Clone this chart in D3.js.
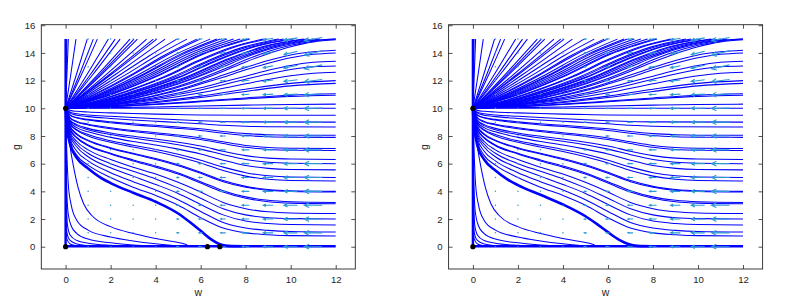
<!DOCTYPE html>
<html><head><meta charset="utf-8">
<script src="https://cdn.jsdelivr.net/npm/d3@7"></script>
<style>body{margin:0;background:#fff}svg{display:block}</style>
</head><body>
<svg id="c" width="788" height="303"></svg>
<script>
// ---------- data ----------
const xTicks = [0, 2, 4, 6, 8, 10, 12];
const yTicks = [0, 2, 4, 6, 8, 10, 12, 14, 16];
const xLabel = "w", yLabel = "g";

// streamlines fanning out of (0,10) to the top edge g=15
const fanTop = [
 [[0,10],[0.05,15]],[[0,10],[0.12,15]],
 [[0,10],[0.23,12.44],[0.46,15]],[[0,10],[0.48,12.44],[0.96,15]],[[0,10],[0.615,12.44],[1.23,15]],
 [[0,10],[0.705,12.44],[1.41,15]],[[0,10],[0.95,12.44],[1.9,15]],[[0,10],[1.1,12.44],[2.2,15]],
 [[0,10],[1.21,12.44],[2.42,15]],[[0,10],[1.43,12.44],[2.86,15]],[[0,10],[1.52,12.44],[3.04,15]],
 [[0,10],[1.595,12.44],[3.19,15]],[[0,10],[1.8,12.44],[3.6,15]],[[0,10],[1.95,12.44],[3.9,15]],
 [[0,10],[2.025,12.44],[4.05,15]],[[0,10],[2.21,12.44],[4.42,15]],
 [[0,10],[1.235,11.21],[2.47,12.48],[3.705,13.78],[4.94,15]],
 [[0,10],[1.35,11.19],[2.695,12.45],[4.04,13.8],[5.39,15]],
 [[0,10],[1.46,11.16],[2.915,12.43],[4.37,13.82],[5.83,15]],
 [[0,10],[1.5,11.15],[2.99,12.43],[4.485,13.82],[5.98,15]],
 [[0,10],[1.605,11.12],[3.21,12.41],[4.815,13.84],[6.42,15]],
 [[0,10],[1.68,11.1],[3.36,12.39],[5.04,13.86],[6.72,15]],
 [[0,10],[1.72,11.09],[3.435,12.39],[5.15,13.86],[6.87,15]],
 [[0,10],[1.79,11.07],[3.585,12.37],[5.38,13.88],[7.17,15]],
 [[0,10],[1.865,11.05],[3.73,12.36],[5.6,13.89],[7.46,15]],
 [[0,10],[1.94,11.03],[3.88,12.35],[5.82,13.9],[7.76,15]],
 [[0,10],[2.015,11.01],[4.03,12.33],[6.045,13.92],[8.06,15]],
 [[0,10],[2.045,11.0],[4.09,12.33],[6.135,13.92],[8.18,15]],
 [[0,10],[1.467,10.58],[2.933,11.37],[4.4,12.3],[5.867,13.43],[7.333,14.39],[8.8,15]],
 [[0,10],[1.492,10.57],[2.983,11.36],[4.475,12.29],[5.967,13.43],[7.458,14.4],[8.95,15]],
 [[0,10],[1.578,10.54],[3.157,11.32],[4.735,12.27],[6.313,13.44],[7.892,14.42],[9.47,15]],
 [[0,10],[1.615,10.53],[3.23,11.31],[4.845,12.26],[6.46,13.45],[8.075,14.43],[9.69,15]],
 [[0,10],[1.665,10.51],[3.33,11.29],[4.995,12.24],[6.66,13.46],[8.325,14.45],[9.99,15]],
 [[0,10],[1.688,10.51],[3.377,11.28],[5.065,12.24],[6.753,13.46],[8.442,14.46],[10.13,15]],
 [[0,10],[1.763,10.48],[3.527,11.25],[5.29,12.22],[7.053,13.47],[8.817,14.48],[10.58,15]],
 [[0,10],[1.788,10.47],[3.577,11.24],[5.365,12.21],[7.153,13.47],[8.942,14.49],[10.73,15]],
 [[0,10],[1.837,10.46],[3.673,11.22],[5.51,12.2],[7.347,13.48],[9.183,14.5],[11.02,15]],
 [[0,10],[1.883,10.44],[3.767,11.2],[5.65,12.18],[7.533,13.49],[9.417,14.51],[11.3,15]]
];

// streamlines from (0,10) to the right edge w=12, above g=10
const fanRight = [
 [[0,10],[1,10.17],[2,10.45],[3,10.82],[4,11.25],[5,11.75],[6,12.35],[7,13.0],[8,13.68],[9,14.25],[10,14.65],[11,14.9],[12,15.0]],
 [[0,10],[1,10.15],[2,10.4],[3,10.75],[4,11.15],[5,11.6],[6,12.15],[7,12.8],[8,13.5],[9,14.1],[10,14.55],[11,14.85],[12,15.0]],
 [[0,10],[1,10.13],[2,10.37],[3,10.7],[4,11.08],[5,11.52],[6,12.05],[7,12.68],[8,13.35],[9,13.95],[10,14.45],[11,14.8],[12,14.95]],
 [[0,10],[1,10.12],[2,10.32],[3,10.6],[4,10.95],[5,11.35],[6,11.85],[7,12.4],[8,12.95],[9,13.45],[10,13.85],[11,14.08],[12,14.2]],
 [[0,10],[1,10.12],[2,10.3],[3,10.55],[4,10.9],[5,11.28],[6,11.75],[7,12.25],[8,12.78],[9,13.25],[10,13.65],[11,13.9],[12,14.0]],
 [[0,10],[1,10.1],[2,10.27],[3,10.5],[4,10.78],[5,11.1],[6,11.48],[7,11.9],[8,12.32],[9,12.75],[10,13.1],[11,13.32],[12,13.4]],
 [[0,10],[1,10.1],[2,10.25],[3,10.45],[4,10.7],[5,11.0],[6,11.33],[7,11.7],[8,12.1],[9,12.48],[10,12.8],[11,13.0],[12,13.05]],
 [[0,10],[1,10.08],[2,10.22],[4,10.6],[6,11.12],[8,11.78],[10,12.35],[11,12.53],[12,12.6]],
 [[0,10],[1,10.07],[2,10.18],[4,10.48],[6,10.88],[8,11.38],[10,11.8],[12,12.0]],
 [[0,10],[1,10.06],[2,10.16],[4,10.42],[6,10.78],[8,11.22],[10,11.62],[12,11.8]],
 [[0,10],[2,10.12],[4,10.3],[6,10.52],[8,10.75],[10,10.95],[12,11.05]],
 [[0,10],[2,10.11],[4,10.27],[6,10.47],[8,10.68],[10,10.86],[12,10.95]],
 [[0,10],[2,10.05],[4,10.1],[6,10.17],[8,10.23],[10,10.28],[12,10.3]],
 [[0,10],[12,10.0]]
];

// streamlines from (0,10) to the right edge, below g=10
const fanLower = [
 [[0,10],[0.2,7.6],[0.5,6.6],[1,5.9],[2,5.0],[3,4.3],[4,3.7],[5,3.0],[6,2.1],[7,1.35],[8,1.0],[9,0.87],[10,0.8],[12,0.77]],
 [[0,10],[0.2,7.8],[0.5,6.9],[1,6.2],[2,5.35],[3,4.7],[4,4.1],[5,3.4],[6,2.55],[7,1.75],[8,1.35],[9,1.18],[10,1.1],[12,1.06]],
 [[0,10],[0.2,8.0],[0.5,7.2],[1,6.5],[2,5.7],[3,5.1],[4,4.5],[5,3.85],[6,3.05],[7,2.3],[8,1.85],[9,1.68],[10,1.6],[12,1.57]],
 [[0,10],[0.2,8.15],[0.5,7.4],[1,6.75],[2,6.0],[3,5.45],[4,4.9],[5,4.25],[6,3.5],[7,2.75],[8,2.3],[9,2.1],[10,2.03],[12,2.0]],
 [[0,10],[0.2,8.3],[0.5,7.6],[1,7.0],[2,6.3],[3,5.75],[4,5.25],[5,4.65],[6,3.95],[7,3.2],[8,2.75],[9,2.52],[10,2.44],[12,2.4]],
 [[0,10],[0.2,8.45],[0.5,7.85],[1,7.3],[2,6.7],[3,6.2],[4,5.75],[5,5.25],[6,4.6],[7,3.95],[8,3.5],[9,3.25],[10,3.15],[12,3.1]],
 [[0,10],[0.2,8.5],[0.5,7.9],[1,7.35],[2,6.75],[3,6.27],[4,5.83],[5,5.33],[6,4.7],[7,4.05],[8,3.6],[9,3.35],[10,3.25],[12,3.2]],
 [[0,10],[0.2,8.65],[0.5,8.1],[1,7.65],[2,7.1],[3,6.7],[4,6.3],[5,5.85],[6,5.3],[7,4.7],[8,4.3],[9,4.08],[10,3.99],[12,3.95]],
 [[0,10],[0.2,8.7],[0.5,8.15],[1,7.7],[2,7.15],[3,6.75],[4,6.38],[5,5.93],[6,5.38],[7,4.78],[8,4.36],[9,4.13],[10,4.04],[12,4.0]],
 [[0,10],[0.2,8.85],[0.5,8.4],[1,8.0],[2,7.55],[3,7.2],[4,6.88],[5,6.5],[6,6.05],[7,5.5],[8,5.1],[9,4.87],[10,4.78],[12,4.75]],
 [[0,10],[0.2,8.9],[0.5,8.45],[1,8.1],[2,7.65],[3,7.33],[4,7.03],[5,6.68],[6,6.25],[7,5.75],[8,5.35],[9,5.12],[10,5.03],[12,5.0]],
 [[0,10],[0.2,9.0],[0.5,8.6],[1,8.3],[2,7.9],[3,7.6],[4,7.35],[5,7.05],[6,6.7],[7,6.25],[8,5.87],[9,5.66],[10,5.58],[12,5.55]],
 [[0,10],[0.2,9.1],[0.5,8.75],[1,8.45],[2,8.1],[3,7.85],[4,7.62],[5,7.37],[6,7.05],[7,6.65],[8,6.3],[9,6.1],[10,6.03],[12,6.0]],
 [[0,10],[0.2,9.15],[0.5,8.82],[1,8.55],[2,8.22],[3,7.98],[4,7.78],[5,7.55],[6,7.27],[7,6.9],[8,6.58],[9,6.4],[10,6.33],[12,6.3]],
 [[0,10],[0.2,9.3],[0.5,9.0],[1,8.8],[2,8.52],[3,8.32],[4,8.15],[5,7.97],[6,7.75],[7,7.45],[8,7.18],[9,7.03],[10,6.97],[12,6.95]],
 [[0,10],[0.2,9.32],[0.5,9.05],[1,8.85],[2,8.6],[3,8.4],[4,8.24],[5,8.07],[6,7.86],[7,7.58],[8,7.32],[9,7.17],[10,7.12],[12,7.1]],
 [[0,10],[0.2,9.5],[0.5,9.3],[1,9.15],[2,8.95],[3,8.8],[4,8.68],[5,8.55],[6,8.4],[7,8.2],[8,8.03],[9,7.94],[10,7.91],[12,7.9]],
 [[0,10],[0.2,9.52],[0.5,9.33],[1,9.2],[2,9.02],[3,8.88],[4,8.77],[5,8.65],[6,8.52],[7,8.33],[8,8.17],[9,8.09],[10,8.06],[12,8.05]],
 [[0,10],[0.2,9.65],[0.5,9.5],[1,9.4],[2,9.27],[3,9.16],[4,9.06],[5,8.98],[6,8.88],[7,8.77],[8,8.7],[9,8.67],[12,8.65]],
 [[0,10],[0.2,9.72],[0.5,9.6],[1,9.52],[2,9.42],[3,9.33],[4,9.25],[5,9.17],[6,9.1],[7,9.05],[8,9.02],[12,9.0]],
 [[0,10],[0.2,9.85],[0.5,9.78],[1,9.73],[2,9.67],[3,9.62],[4,9.58],[5,9.55],[6,9.52],[8,9.5],[12,9.5]]
];

// streamlines below the separatrix, bending onto g = 0
const fanCorner = [
 [[0,10],[0.08,8.5],[0.2,7.2],[0.35,5.8],[0.55,4.3],[0.8,3.1],[1.2,2.2],[2,1.45],[3,0.95],[4,0.6],[5,0.3],[5.4,0.15]],
 [[0,10],[0.05,7],[0.12,4.5],[0.25,3.0],[0.5,1.9],[1,1.2],[2,0.7],[3,0.42],[4,0.22],[5,0.08],[5.4,0.05]],
 [[0,10],[0.04,5],[0.1,2.6],[0.25,1.5],[0.5,0.95],[1,0.55],[2,0.28],[3,0.12],[4,0.05]],
 [[0,10],[0.03,4],[0.08,1.6],[0.2,0.85],[0.5,0.45],[1,0.25],[2,0.1],[2.7,0.05]],
 [[0,10],[0.02,3],[0.06,1.0],[0.2,0.45],[0.5,0.2],[1,0.08],[1.4,0.04]],
 [[0,10],[0.02,2],[0.05,0.6],[0.2,0.2],[0.5,0.06]]
];

// separatrix (drawn heavier) and the two invariant axes
const separatrixL = [[0,10],[0.03,9],[0.08,8.3],[0.2,7.4],[0.5,6.4],[1,5.65],[1.5,5.05],[2,4.6],[3,3.9],[4,3.25],[5,2.4],[5.5,1.8],[6,1.15],[6.5,0.5],[6.85,0.18],[7.2,0.06],[8,0.03]];
const separatrixR = [[0,10],[0.03,9],[0.08,8.3],[0.2,7.3],[0.5,6.3],[1,5.5],[1.5,4.9],[2,4.45],[3,3.75],[4,3.05],[5,2.2],[5.5,1.65],[6,1.05],[6.5,0.5],[6.9,0.2],[7.3,0.06],[8,0.03]];
const axisLines = [[[0,0],[0,15]], [[0,0.03],[12,0.03]]];

// equilibria
const eqLeft = [[0,0],[0,10],[6.3,0],[6.85,0]];
const eqRight = [[0,0],[0,10]];

// direction-field grid (arrows centred on grid points, pointing to smaller w)
const arrowCols = [1,2,3,4,5,6,7,8,9,10,11];
const arrowRows = [0,1,2,3,4,5,6,7,8,9,10,11,12,13,14,15];
const arrowLen  = [0.03,0.04,0.06,0.08,0.11,0.16,0.23,0.32,0.44,0.6,0.8];
const arrowSlope= [0,0,0,0,0,0,0,0,0,0,0.03,0.1,0.2,0.35,0.4,0.3];

// ---------- drawing ----------
const svg = d3.select("#c");
const panels = [
  {dx:0, sep:separatrixL, eq:eqLeft},
  {dx:407.3, sep:separatrixR, eq:eqRight}
];
const FONT = "'Liberation Sans', Arial, Helvetica, sans-serif";

panels.forEach(p => {
  const x = d3.scaleLinear([-1.08, 12.87], [41.3 + p.dx, 355.3 + p.dx]);
  const y = d3.scaleLinear([-1.61, 16.04], [269, 24.7]);
  const g = svg.append("g");
  const clipId = "clip" + Math.round(p.dx);
  g.append("clipPath").attr("id", clipId).append("rect")
    .attr("x", x.range()[0]).attr("y", y.range()[1])
    .attr("width", x.range()[1]-x.range()[0]).attr("height", y.range()[0]-y.range()[1]);

  const line = d3.line().x(d => x(d[0])).y(d => y(d[1])).curve(d3.curveMonotoneX);
  const plot = g.append("g").attr("clip-path", `url(#${clipId})`);

  const all = [].concat(fanTop, fanRight, fanLower, fanCorner);
  plot.selectAll("path.s").data(all).join("path").attr("class","s")
    .attr("d", line).attr("fill","none").attr("stroke","#0000ff")
    .attr("stroke-width",1.05).attr("stroke-linejoin","round");
  plot.append("path").attr("d", line(p.sep)).attr("fill","none")
    .attr("stroke","#0000ff").attr("stroke-width",2.6);
  plot.selectAll("path.a").data(axisLines).join("path").attr("class","a")
    .attr("d", d3.line().x(d => x(d[0])).y(d => y(d[1])))
    .attr("fill","none").attr("stroke","#0000ff").attr("stroke-width",2.4);

  // direction field
  const qcol = "#2a9ad2";
  const qg = plot.append("g").attr("stroke", qcol).attr("fill","none").attr("stroke-width",1.1);
  arrowRows.forEach((gr, ri) => {
    arrowCols.forEach((wc, ci) => {
      const L = arrowLen[ci], s = arrowSlope[ri];
      const x1 = x(wc + L/2), y1 = y(gr + s*L/2);
      const x2 = x(wc - L/2), y2 = y(gr - s*L/2);
      const px = Math.hypot(x2-x1, y2-y1);
      if (px < 2) {
        qg.append("circle").attr("cx", x(wc)).attr("cy", y(gr)).attr("r",0.75)
          .attr("fill", qcol).attr("stroke","none");
        return;
      }
      const ux = (x2-x1)/px, uy = (y2-y1)/px;
      const h = Math.max(1.5, px*0.3), a = 0.45;
      const hx1 = x2 - h*(ux*Math.cos(a) - uy*Math.sin(a));
      const hy1 = y2 - h*(uy*Math.cos(a) + ux*Math.sin(a));
      const hx2 = x2 - h*(ux*Math.cos(a) + uy*Math.sin(a));
      const hy2 = y2 - h*(uy*Math.cos(a) - ux*Math.sin(a));
      qg.append("path").attr("d", `M${x1},${y1}L${x2},${y2}M${hx1},${hy1}L${x2},${y2}L${hx2},${hy2}`);
    });
  });

  // equilibria
  g.selectAll("circle.eq").data(p.eq).join("circle").attr("class","eq")
    .attr("cx", d => x(d[0])).attr("cy", d => y(d[1])).attr("r", 2.6).attr("fill","#000");

  // frame + axes
  const axCol = "#262626";
  const mk = (ax, tr) => {
    const a = g.append("g").attr("transform", tr).call(ax);
    a.select(".domain").remove();
    a.selectAll("line").attr("stroke", axCol).attr("stroke-width",0.8);
    a.selectAll("text").attr("fill", axCol).style("font-family", FONT).style("font-size","9.6px");
    return a;
  };
  mk(d3.axisBottom(x).tickValues(xTicks).tickSizeInner(-4).tickSizeOuter(0).tickPadding(7), `translate(0,${y.range()[0]})`);
  mk(d3.axisTop(x).tickValues(xTicks).tickSizeInner(-4).tickSizeOuter(0).tickFormat(""), `translate(0,${y.range()[1]})`);
  mk(d3.axisLeft(y).tickValues(yTicks).tickSizeInner(-4).tickSizeOuter(0).tickPadding(6), `translate(${x.range()[0]},0)`);
  mk(d3.axisRight(y).tickValues(yTicks).tickSizeInner(-4).tickSizeOuter(0).tickFormat(""), `translate(${x.range()[1]},0)`);
  g.append("rect").attr("x", x.range()[0]).attr("y", y.range()[1])
    .attr("width", x.range()[1]-x.range()[0]).attr("height", y.range()[0]-y.range()[1])
    .attr("fill","none").attr("stroke", axCol).attr("stroke-width",0.9);

  g.append("text").attr("x", (x.range()[0]+x.range()[1])/2).attr("y", 296)
    .attr("text-anchor","middle").attr("fill", axCol)
    .style("font-family", FONT).style("font-size","10.5px").text(xLabel);
  g.append("text").attr("transform", `translate(${x.range()[0]-21},147) rotate(-90)`)
    .attr("text-anchor","middle").attr("fill", axCol)
    .style("font-family", FONT).style("font-size","10.5px").text(yLabel);
});
</script>
</body></html>
